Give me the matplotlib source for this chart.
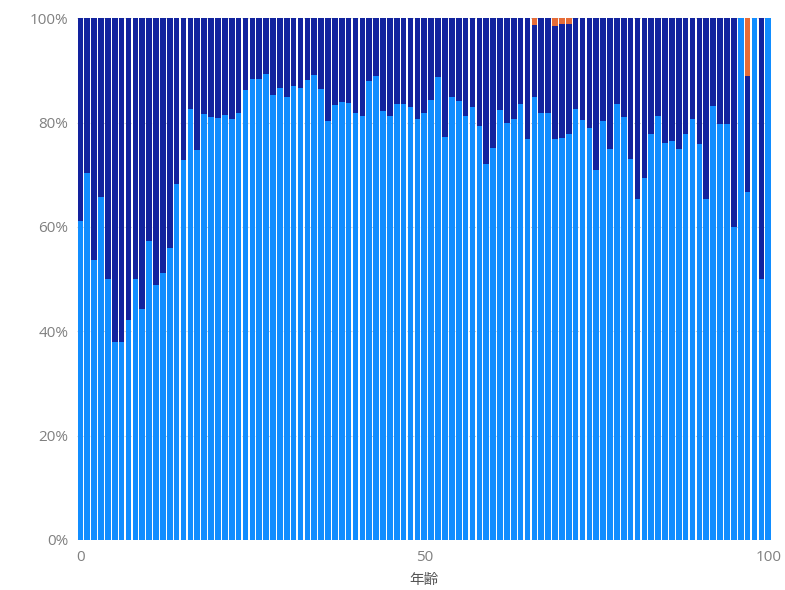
import matplotlib
matplotlib.use('Agg')
import matplotlib.pyplot as plt
import numpy as np

plt.rcParams['font.family'] = ['Open Sans', 'Noto Sans CJK JP', 'DejaVu Sans']

# 年齢 0..100
ages = list(range(101))

# share (%) per age: light blue / dark blue / orange
light = [61.1, 70.4, 53.6, 65.8, 50.1, 38.0, 38.0, 42.1, 50.1, 44.3,
         57.3, 48.9, 51.1, 55.9, 68.3, 72.9, 82.7, 74.7, 81.6, 81.0,
         80.8, 81.5, 80.7, 81.9, 86.2, 88.3, 88.3, 89.3, 85.2, 86.7,
         84.9, 87.0, 86.7, 88.1, 89.1, 86.4, 80.3, 83.3, 84.0, 83.7,
         81.9, 81.3, 88.0, 88.9, 82.2, 81.3, 83.5, 83.5, 83.0, 80.7,
         81.9, 84.3, 88.8, 77.3, 84.9, 84.2, 81.2, 82.9, 79.3, 72.0,
         75.2, 82.5, 79.9, 80.7, 83.5, 76.9, 84.9, 81.9, 81.9, 76.8,
         77.1, 77.9, 82.7, 80.5, 78.9, 71.0, 80.3, 74.9, 83.5, 81.0,
         73.0, 65.3, 69.4, 77.8, 81.2, 76.0, 76.4, 74.9, 77.8, 80.6,
         75.9, 65.3, 83.2, 79.8, 79.8, 59.9, 100.0, 66.7, 100.0, 50.0,
         100.0]
dark = [38.9, 29.6, 46.4, 34.2, 49.9, 62.0, 62.0, 57.9, 49.9, 55.7,
        42.7, 51.1, 48.9, 44.1, 31.7, 27.1, 17.3, 25.3, 18.4, 19.0,
        19.2, 18.5, 19.3, 18.1, 13.8, 11.7, 11.7, 10.7, 14.8, 13.3,
        15.1, 13.0, 13.3, 11.9, 10.9, 13.6, 19.7, 16.7, 16.0, 16.3,
        18.1, 18.7, 12.0, 11.1, 17.8, 18.7, 16.5, 16.5, 17.0, 19.3,
        18.1, 15.7, 11.2, 22.7, 15.1, 15.8, 18.8, 17.1, 20.7, 28.0,
        24.8, 17.5, 20.1, 19.3, 16.5, 23.1, 13.9, 18.1, 18.1, 21.8,
        21.8, 21.0, 17.3, 19.5, 21.1, 29.0, 19.7, 25.1, 16.5, 19.0,
        27.0, 34.7, 30.6, 22.2, 18.8, 24.0, 23.6, 25.1, 22.2, 19.4,
        24.1, 34.7, 16.8, 20.2, 20.2, 40.1, 0.0, 22.2, 0.0, 50.0,
        0.0]
orange = [0.0] * 66 + [1.2, 0.0, 0.0, 1.4, 1.1, 1.1] + [0.0] * 25 + [11.1, 0.0, 0.0, 0.0]

c_light = '#118DFF'
c_dark = '#12239E'
c_orange = '#E66C37'

fig = plt.figure(figsize=(7.85, 5.9), dpi=100)
ax = fig.add_axes([0.098, 0.085, 0.885, 0.884])

x = np.array(ages)
light = np.array(light)
dark = np.array(dark)
orange = np.array(orange)
w = 0.82
ax.bar(x, light, width=w, color=c_light, linewidth=0)
ax.bar(x, dark, width=w, bottom=light, color=c_dark, linewidth=0)
ax.bar(x, orange, width=w, bottom=light + dark, color=c_orange, linewidth=0)

ax.set_xlim(-0.5, 100.5)
ax.set_ylim(0, 100)
ax.set_yticks([0, 20, 40, 60, 80, 100])
ax.set_yticklabels(['0%', '20%', '40%', '60%', '80%', '100%'])
ax.set_xticks([0, 50, 100])
ax.grid(True, axis='y', color='#cccccc', linestyle=':', linewidth=0.8)
ax.set_axisbelow(True)
for s in ax.spines.values():
    s.set_visible(False)
ax.tick_params(axis='both', length=0, labelsize=11, colors='#808080')
ax.tick_params(axis='y', pad=6)
ax.tick_params(axis='x', pad=7)
ax.set_xlabel('年齢', fontsize=10.5, color='#555555', labelpad=6)

fig.savefig('out.png', dpi=100)
